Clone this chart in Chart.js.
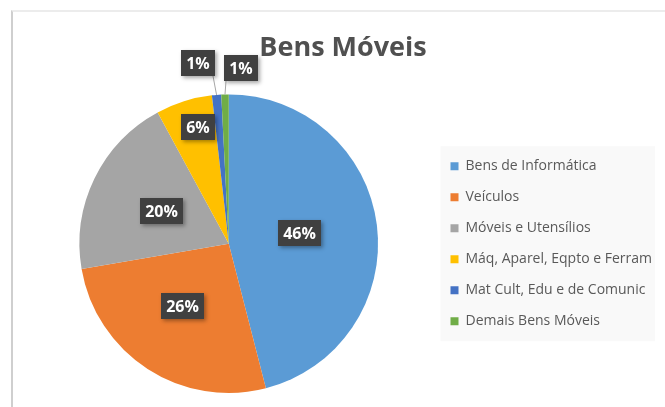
<!DOCTYPE html>
<html>
<head>
<meta charset="utf-8">
<title>Bens Móveis</title>
<script src="https://cdn.jsdelivr.net/npm/chart.js@4.4.1/dist/chart.umd.min.js"></script>
<style>
  html, body { margin: 0; padding: 0; background: #fff; }
  body { width: 665px; height: 407px; position: relative; overflow: hidden; }
  .frame {
    position: absolute; left: 11px; top: 10px; width: 700px; height: 500px;
    border-left: 2px solid #cfcfcf; border-top: 2px solid #ececec;
  }
  .wrap { position: absolute; left: 0; top: 0; width: 665px; height: 407px; }
</style>
</head>
<body>
<div class="frame"></div>
<div class="wrap"><canvas id="bensChart"></canvas></div>
<script>
// Chart data
const categories = [
    'Bens de Informática',
    'Veículos',
    'Móveis e Utensílios',
    'Máq, Aparel, Eqpto e Ferram',
    'Mat Cult, Edu e de Comunic',
    'Demais Bens Móveis'
];
const values = [46.0, 26.3, 19.8, 6.1, 1.0, 0.8];
const sliceColors = ['#5b9bd5', '#ed7d31', '#a5a5a5', '#ffc000', '#4472c4', '#70ad47'];

// Where each percent label sits: fraction of the radius and angle nudge (degrees)
const labelRadius = [0.48, 0.52, 0.50, 0.81, 1.23, 1.18];
const labelShift = [-1.6, 3.7, 0, 2.7, -5.1, 5.3];

// Faint panel behind the legend
const legendPanel = {
    id: 'legendPanel',
    beforeDraw(chart) {
        const boxes = chart.legend && chart.legend.legendHitBoxes;
        if (!boxes || !boxes.length) return;
        const first = boxes[0], last = boxes[boxes.length - 1];
        const ctx = chart.ctx;
        const x0 = first.left - 10, y0 = first.top - 13;
        ctx.save();
        ctx.fillStyle = '#f9f9f9';
        ctx.fillRect(x0, y0, chart.width - 10 - x0, last.top + last.height + 13 - y0);
        ctx.restore();
    }
};

// Dark percent boxes, like Excel data callouts
const percentLabels = {
    id: 'percentLabels',
    afterDatasetsDraw(chart) {
        const ctx = chart.ctx;
        const meta = chart.getDatasetMeta(0);
        const total = values.reduce((a, b) => a + b, 0);
        ctx.save();
        ctx.font = 'bold 16px "Open Sans"';
        meta.data.forEach((arc, i) => {
            const p = arc.getProps(['x', 'y', 'startAngle', 'endAngle', 'outerRadius'], true);
            const mid = (p.startAngle + p.endAngle) / 2;
            const ang = mid + labelShift[i] * Math.PI / 180;
            const r = p.outerRadius * labelRadius[i];
            const lx = p.x + Math.cos(ang) * r;
            const ly = p.y + Math.sin(ang) * r;
            const text = Math.round(values[i] / total * 100) + '%';
            const w = Math.round(ctx.measureText(text).width + 10);
            const h = 26;
            const bx = Math.round(lx - w / 2), by = Math.round(ly - h / 2);

            if (labelRadius[i] > 1) {
                // leader line from slice edge to the box
                const ex = p.x + Math.cos(mid) * p.outerRadius;
                const ey = p.y + Math.sin(mid) * p.outerRadius;
                const tx = Math.min(Math.max(ex, bx + 2), bx + w - 2);
                ctx.strokeStyle = '#a6a6a6';
                ctx.lineWidth = 1;
                ctx.beginPath();
                ctx.moveTo(ex, ey);
                ctx.lineTo(tx, by + h);
                ctx.stroke();
            }

            ctx.shadowColor = 'rgba(0,0,0,0.35)';
            ctx.shadowBlur = 4;
            ctx.shadowOffsetX = 2;
            ctx.shadowOffsetY = 2;
            ctx.fillStyle = '#404040';
            ctx.fillRect(bx, by, w, h);
            ctx.shadowColor = 'transparent';
            ctx.fillStyle = '#ffffff';
            ctx.textAlign = 'center';
            ctx.textBaseline = 'middle';
            ctx.fillText(text, bx + w / 2, by + h / 2 + 1);
        });
        ctx.restore();
    }
};

const ctx = document.getElementById('bensChart').getContext('2d');
new Chart(ctx, {
    type: 'pie',
    data: {
        labels: categories,
        datasets: [{
            data: values,
            backgroundColor: sliceColors,
            borderWidth: 0
        }]
    },
    options: {
        responsive: true,
        maintainAspectRatio: false,
        animation: false,
        layout: { padding: { left: 24, right: 3, top: 10, bottom: 14 } },
        plugins: {
            title: {
                display: true,
                text: 'Bens Móveis',
                color: '#505050',
                font: { family: '"Open Sans"', size: 27, weight: 'bold', lineHeight: 1.2 },
                padding: { top: 22, bottom: 30 }
            },
            legend: {
                position: 'right',
                fullSize: false,
                labels: {
                    color: '#595959',
                    font: { family: '"Open Sans"', size: 14 },
                    boxWidth: 8,
                    boxHeight: 8,
                    padding: 17
                }
            },
            tooltip: { enabled: false }
        }
    },
    plugins: [legendPanel, percentLabels]
});
</script>
</body>
</html>
